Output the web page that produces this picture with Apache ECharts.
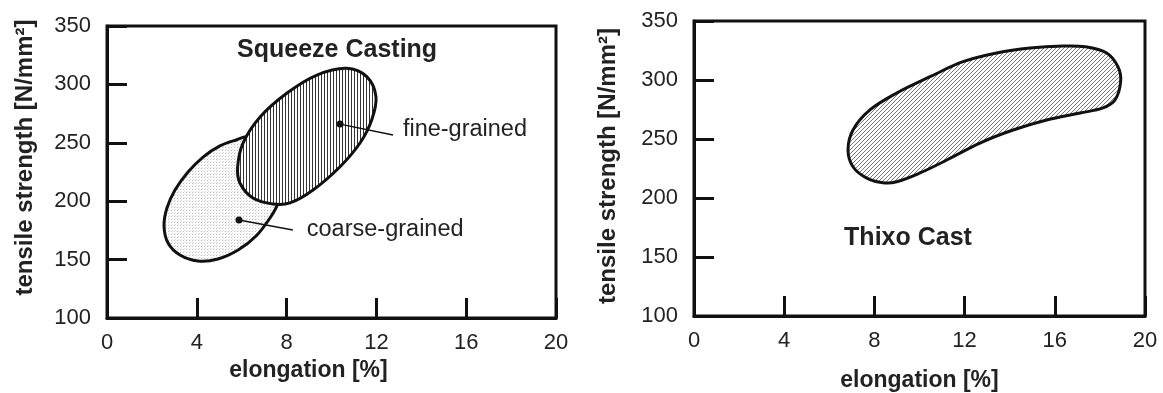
<!DOCTYPE html>
<html><head><meta charset="utf-8">
<script src="https://cdn.jsdelivr.net/npm/echarts@6/dist/echarts.min.js"></script>
<style>html,body{margin:0;padding:0;background:#fff}#c{width:1163px;height:393px}</style>
</head><body><div id="c"></div>
<script>
// ---- data ----
const xTicks = [0, 4, 8, 12, 16, 20];
const yTicks = [100, 150, 200, 250, 300, 350];
const xTitle = 'elongation [%]';
const yTitle = 'tensile strength [N/mm²]';

// outline of the "fine-grained" region (elongation %, tensile strength N/mm²)
const fineGrainedOutline = [
  [10.68, 313.8], [11.57, 306.6], [11.98, 289.5], [11.79, 269.5], [11.27, 249.8],
  [10.38, 229.5], [9.18, 209.6], [8.15, 198.5], [7.39, 197.6], [6.50, 202.7],
  [5.92, 215.6], [5.82, 229.5], [6.06, 249.8], [6.82, 272.1], [8.02, 292.6], [9.35, 308.0]
];
// outline of the "coarse-grained" region
const coarseGrainedOutline = [
  [6.28, 255.0], [5.75, 252.4], [5.03, 247.3], [4.28, 237.8], [3.61, 225.0],
  [3.03, 209.6], [2.67, 194.2], [2.54, 178.8], [2.72, 164.2], [3.25, 153.9],
  [4.05, 148.8], [4.94, 150.5], [5.84, 158.2], [6.64, 170.2], [7.26, 185.6],
  [7.62, 198.5], [7.75, 213.9], [7.48, 231.0], [6.90, 246.4]
];
// outline of the "Thixo Cast" region
const thixoOutline = [
  [17.34, 328.2], [18.30, 322.9], [18.80, 311.3], [18.92, 298.6], [18.67, 283.1],
  [18.14, 276.3], [17.12, 272.0], [15.64, 266.1], [14.15, 257.6], [12.68, 246.6],
  [11.21, 232.2], [10.02, 221.2], [8.99, 213.8], [8.38, 213.0], [7.66, 216.9],
  [7.05, 226.5], [6.83, 240.7], [7.05, 257.6], [7.80, 274.6], [8.99, 289.0],
  [10.47, 302.8], [11.93, 315.5], [13.42, 322.9], [14.90, 327.1], [16.36, 328.8]
];
const fineLeader = [[10.38, 266.0], [12.74, 256.7]];
const coarseLeader = [[5.88, 183.9], [8.28, 175.3]];
const leftLabels = [
  ['Squeeze Casting', 10.25, 329.5, 'center', 'bold'],
  ['fine-grained', 13.18, 261.0, 'left', 'normal'],
  ['coarse-grained', 8.90, 176.0, 'left', 'normal']
];
const rightLabels = [
  ['Thixo Cast', 9.49, 166.0, 'center', 'bold']
];

// ---- chart ----
const FONT = '"Liberation Sans", Arial, Helvetica, sans-serif';
const INK = '#111';
const TXT = '#222';

function pattern(w, h, draw) {
  const c = document.createElement('canvas');
  c.width = w; c.height = h;
  const g = c.getContext('2d');
  g.fillStyle = '#fff'; g.fillRect(0, 0, w, h);
  draw(g);
  return { image: c, repeat: 'repeat' };
}
const vertHatch = pattern(3, 1, g => { g.fillStyle = '#333'; g.fillRect(0, 0, 1, 1); });
const stipple = pattern(3, 3, g => { g.fillStyle = '#bbb'; g.fillRect(0, 0, 1, 1); g.fillStyle = '#ddd'; g.fillRect(1, 2, 1, 1); });
const diagHatch = pattern(4, 4, g => { g.fillStyle = '#777'; for (let i = 0; i < 4; i++) g.fillRect(i, 3 - i, 1, 1); });

function xAxisCfg(gi, gap, pad) {
  return {
    gridIndex: gi, type: 'value', min: xTicks[0], max: xTicks[xTicks.length - 1], interval: xTicks[1] - xTicks[0],
    axisLine: { show: true, onZero: false, lineStyle: { color: INK, width: 3 } },
    axisTick: { show: true, inside: true, length: 20, lineStyle: { color: INK, width: 3 } },
    axisLabel: { show: true, fontSize: 22, color: TXT, margin: 14, fontFamily: FONT, showMinLabel: true, showMaxLabel: true, hideOverlap: false },
    splitLine: { show: false },
    name: xTitle, nameLocation: 'middle', nameGap: gap,
    nameTextStyle: { fontSize: 23, fontWeight: 'bold', color: TXT, fontFamily: FONT, padding: pad }
  };
}
function yAxisCfg(gi, gap, pad) {
  return {
    gridIndex: gi, type: 'value', min: yTicks[0], max: yTicks[yTicks.length - 1], interval: yTicks[1] - yTicks[0],
    axisLine: { show: true, onZero: false, lineStyle: { color: INK, width: 3 } },
    axisTick: { show: true, inside: true, length: 20, lineStyle: { color: INK, width: 3 } },
    axisLabel: { show: true, fontSize: 22, color: TXT, margin: 16, fontFamily: FONT, showMinLabel: true, showMaxLabel: true, hideOverlap: false },
    splitLine: { show: false },
    name: yTitle, nameLocation: 'middle', nameGap: gap,
    nameTextStyle: { fontSize: 24, fontWeight: 'bold', color: TXT, fontFamily: FONT, padding: pad }
  };
}
function regionSeries(pts, fill, gi, z) {
  return {
    type: 'custom', xAxisIndex: gi, yAxisIndex: gi, silent: true, z: z, data: [0],
    renderItem: (params, api) => ({
      type: 'polygon',
      shape: { points: pts.map(p => api.coord(p)), smooth: 0.35 },
      style: { fill: fill, stroke: INK, lineWidth: 3 }
    })
  };
}
function leaderSeries(pts, gi) {
  return {
    type: 'line', xAxisIndex: gi, yAxisIndex: gi, silent: true, z: 10,
    data: pts.map((p, i) => ({ value: p, symbolSize: i === 0 ? 7 : 0 })),
    symbol: 'circle', showAllSymbol: true,
    lineStyle: { color: INK, width: 1.5 }, itemStyle: { color: INK }
  };
}
function textSeries(list, gi) {
  return {
    type: 'custom', xAxisIndex: gi, yAxisIndex: gi, silent: true, z: 20,
    data: list.map(l => [l[1], l[2]]),
    renderItem: (params, api) => {
      const l = list[params.dataIndex];
      const c = api.coord([api.value(0), api.value(1)]);
      return {
        type: 'text', x: c[0], y: c[1],
        style: { text: l[0], fontSize: l[4] === 'bold' ? 25 : 23.5, fontWeight: l[4], fontFamily: FONT, fill: TXT, align: l[3], verticalAlign: 'middle' }
      };
    }
  };
}

const chart = echarts.init(document.getElementById('c'), null, { renderer: 'canvas' });
chart.setOption({
  backgroundColor: '#fff',
  animation: false,
  grid: [
    { left: 107, top: 26, width: 449, height: 292, show: true, borderWidth: 3, borderColor: INK, backgroundColor: 'transparent', containLabel: false, outerBoundsMode: 'none' },
    { left: 694, top: 21, width: 451, height: 295, show: true, borderWidth: 3, borderColor: INK, backgroundColor: 'transparent', containLabel: false, outerBoundsMode: 'none' }
  ],
  xAxis: [xAxisCfg(0, 41, [0, 46, 0, 0]), xAxisCfg(1, 53, [0, 0, 0, 0])],
  yAxis: [yAxisCfg(0, 70, [0, 0, 0, 29]), yAxisCfg(1, 74, [0, 0, 0, 5])],
  series: [
    regionSeries(coarseGrainedOutline, stipple, 0, 2),
    regionSeries(fineGrainedOutline, vertHatch, 0, 3),
    leaderSeries(fineLeader, 0),
    leaderSeries(coarseLeader, 0),
    textSeries(leftLabels, 0),
    regionSeries(thixoOutline, diagHatch, 1, 2),
    textSeries(rightLabels, 1)
  ]
});
</script>
</body></html>
